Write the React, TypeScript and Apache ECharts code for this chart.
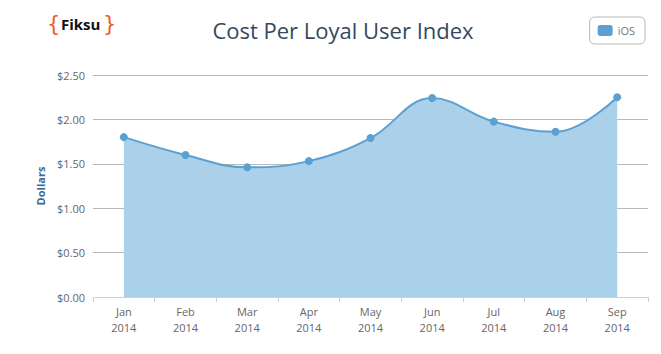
import React, { useEffect, useRef } from "react";
import * as echarts from "echarts";

const months = ["Jan", "Feb", "Mar", "Apr", "May", "Jun", "Jul", "Aug", "Sep"];
const year = "2014";
const iosValues = [1.8, 1.6, 1.46, 1.53, 1.79, 2.24, 1.975, 1.86, 2.25];
const seriesName = "iOS";
const titleText = "Cost Per Loyal User Index";
const yAxisName = "Dollars";

export default function App() {
  const ref = useRef<HTMLDivElement>(null);
  useEffect(() => {
    if (!ref.current) return;
    const chart = echarts.init(ref.current, null, { renderer: "svg" });
    const brace = { fill: "#f05a24", fontSize: 21, fontFamily: "DejaVu Sans", fontWeight: "normal" };
    chart.setOption({
      animation: false,
      backgroundColor: "#ffffff",
      title: {
        text: titleText,
        left: 338,
        textAlign: "center",
        top: 14,
        textStyle: {
          fontFamily: "Open Sans",
          fontWeight: "normal",
          fontSize: 22,
          color: "#34495e",
        },
      },
      graphic: [
        { type: "text", left: 47, top: 13, style: { ...brace, text: "{" } },
        {
          type: "text",
          left: 61,
          top: 16,
          style: { text: "Fiksu", fill: "#111111", fontSize: 15, fontWeight: "bold", fontFamily: "Open Sans" },
        },
        { type: "text", left: 103, top: 13, style: { ...brace, text: "}" } },
      ],
      legend: {
        data: [seriesName],
        right: 16,
        top: 17,
        borderColor: "#b8b8b8",
        borderWidth: 1,
        borderRadius: 5,
        padding: [8, 10, 8, 8],
        itemWidth: 15,
        itemHeight: 11,
        icon: "roundRect",
        itemGap: 6,
        textStyle: { color: "#777", fontSize: 11, fontFamily: "Open Sans" },
      },
      grid: { left: 93, right: 13, top: 75, bottom: 57 },
      xAxis: {
        type: "category",
        boundaryGap: true,
        data: months.map((m) => m + "\n" + year),
        axisLine: { lineStyle: { color: "#c8d2dc" } },
        axisTick: { show: true, lineStyle: { color: "#c8d2dc" }, length: 5 },
        axisLabel: {
          color: "#666",
          fontSize: 11,
          fontFamily: "Open Sans",
          lineHeight: 16,
          margin: 6,
        },
      },
      yAxis: {
        type: "value",
        min: 0,
        max: 2.5,
        interval: 0.5,
        name: yAxisName,
        nameLocation: "middle",
        nameGap: 43,
        nameTextStyle: { color: "#3d6a96", fontWeight: "bold", fontSize: 11, fontFamily: "Open Sans" },
        axisLine: { show: false },
        axisTick: { show: false },
        splitLine: { lineStyle: { color: "#b8b8b8" } },
        axisLabel: {
          color: "#666",
          fontSize: 11,
          fontFamily: "Open Sans",
          margin: 8,
          formatter: (v: number) => "$" + v.toFixed(2),
        },
      },
      series: [
        {
          name: seriesName,
          type: "line",
          data: iosValues,
          smooth: 0.4,
          symbol: "circle",
          symbolSize: 8,
          itemStyle: { color: "#5aa0d2" },
          lineStyle: { color: "#5aa0d2", width: 2 },
          areaStyle: { color: "#abd0e9", opacity: 1 },
        },
      ],
    });
    return () => chart.dispose();
  }, []);
  return (
    <div
      ref={ref}
      style={{ position: "fixed", left: 0, top: 0, width: 661, height: 354 }}
    />
  );
}
